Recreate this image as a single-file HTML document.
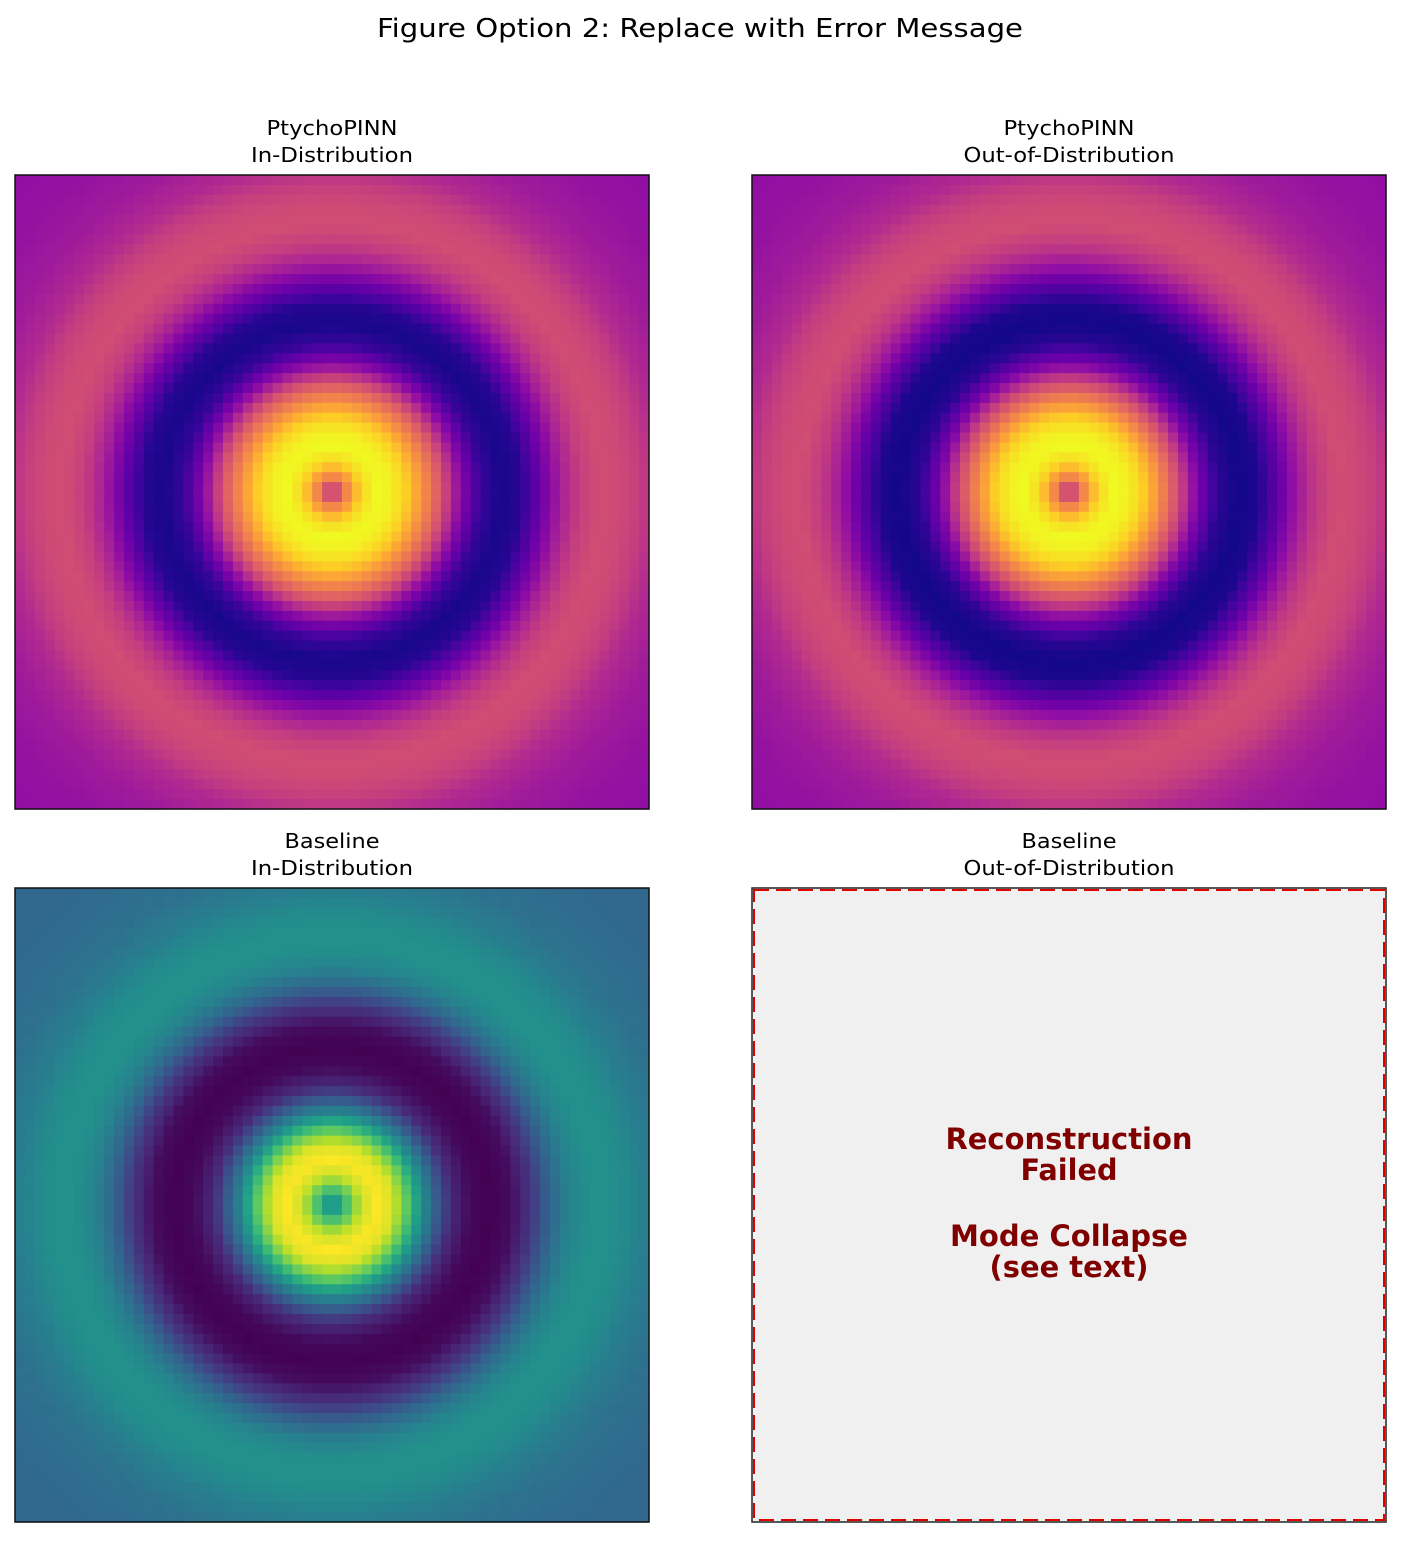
<!DOCTYPE html>
<html><head><meta charset="utf-8"><style>
body{margin:0;background:#fff;width:1401px;height:1537px;overflow:hidden}
</style></head><body>
<svg id="fig" width="1401" height="1537" xmlns="http://www.w3.org/2000/svg" style="font-family:'DejaVu Sans','Liberation Sans',sans-serif">
<text x="700" y="37" font-size="26" text-anchor="middle" textLength="646" lengthAdjust="spacingAndGlyphs">Figure Option 2: Replace with Error Message</text>
<text x="332" y="135" font-size="20" text-anchor="middle" textLength="131" lengthAdjust="spacingAndGlyphs">PtychoPINN</text>
<text x="332" y="162" font-size="20" text-anchor="middle" textLength="162" lengthAdjust="spacingAndGlyphs">In-Distribution</text>
<text x="1069" y="135" font-size="20" text-anchor="middle" textLength="131" lengthAdjust="spacingAndGlyphs">PtychoPINN</text>
<text x="1069" y="162" font-size="20" text-anchor="middle" textLength="211" lengthAdjust="spacingAndGlyphs">Out-of-Distribution</text>
<text x="332" y="848" font-size="20" text-anchor="middle" textLength="95" lengthAdjust="spacingAndGlyphs">Baseline</text>
<text x="332" y="875" font-size="20" text-anchor="middle" textLength="162" lengthAdjust="spacingAndGlyphs">In-Distribution</text>
<text x="1069" y="848" font-size="20" text-anchor="middle" textLength="95" lengthAdjust="spacingAndGlyphs">Baseline</text>
<text x="1069" y="875" font-size="20" text-anchor="middle" textLength="211" lengthAdjust="spacingAndGlyphs">Out-of-Distribution</text>
<g id="p1"></g>
<g id="p2"></g>
<g id="p3"></g>
<rect x="752" y="888" width="634" height="634" fill="#f0f0f0" stroke="#222" stroke-width="1.5"/>
<rect x="754" y="890" width="630" height="630" fill="none" stroke="#e00000" stroke-width="2" stroke-dasharray="15,7"/>
<g font-size="29" font-weight="bold" fill="#800000" text-anchor="middle">
<text x="1069" y="1149" textLength="247" lengthAdjust="spacingAndGlyphs">Reconstruction</text>
<text x="1069" y="1180" textLength="97" lengthAdjust="spacingAndGlyphs">Failed</text>
<text x="1069" y="1246" textLength="238" lengthAdjust="spacingAndGlyphs">Mode Collapse</text>
<text x="1069" y="1277" textLength="159" lengthAdjust="spacingAndGlyphs">(see text)</text>
</g>
</svg>
<script>
// Radial profile (radius in grid cells -> normalized value)
const profileR = [0, 1.5, 3, 4.5, 6, 7.5, 9, 11, 13, 15, 17, 19, 21, 23, 25, 27, 29, 31, 33, 36, 40, 46];
const plasmaProfile = [0.4, 0.7, 0.92, 1.0, 0.98, 0.9, 0.75, 0.55, 0.28, 0.08, 0.02, 0.05, 0.2, 0.36, 0.47, 0.52, 0.51, 0.47, 0.4, 0.35, 0.32, 0.3];
const plasmaProfileOOD = [0.4, 0.7, 0.92, 1.0, 0.98, 0.9, 0.74, 0.52, 0.25, 0.06, 0.01, 0.03, 0.17, 0.34, 0.46, 0.52, 0.51, 0.47, 0.4, 0.35, 0.32, 0.3];
const viridisR = [0, 1.5, 3, 4.5, 6, 7.5, 9, 10.5, 12, 14, 16, 18, 20, 22, 24, 26, 28, 30, 32, 35, 40, 46];
const viridisProfile = [0.43, 0.7, 0.92, 1.0, 0.95, 0.75, 0.5, 0.3, 0.12, 0.02, 0.0, 0.03, 0.15, 0.32, 0.45, 0.5, 0.5, 0.47, 0.42, 0.37, 0.34, 0.33];
const gridN = 64;

const plasmaStops = ["#0d0887","#41049d","#6a00a8","#8f0da4","#b12a90","#cc4778","#e16462","#f2844b","#fca636","#fcce25","#f0f921"];
const viridisStops = ["#440154","#482878","#3e4989","#31688e","#26828e","#1f9e89","#35b779","#6ece58","#b5de2b","#fde725"];

function hex(c){return [parseInt(c.slice(1,3),16),parseInt(c.slice(3,5),16),parseInt(c.slice(5,7),16)];}
function cmap(stops,v){v=Math.max(0,Math.min(1,v));const n=stops.length-1;const i=Math.min(n-1,Math.floor(v*n));const t=v*n-i;const a=hex(stops[i]),b=hex(stops[i+1]);
return 'rgb('+a.map((x,k)=>Math.round(x+(b[k]-x)*t)).join(',')+')';}
function prof(rs,vs,r){if(r>=rs[rs.length-1])return vs[vs.length-1];for(let i=0;i<rs.length-1;i++){if(r<=rs[i+1]){const t=(r-rs[i])/(rs[i+1]-rs[i]);return vs[i]+(vs[i+1]-vs[i])*t;}}}
function xScale(x0,i){return x0+i*634/gridN;}
function draw(id,x0,y0,rs,vs,stops){
  const g=document.getElementById(id);const ns="http://www.w3.org/2000/svg";const cs=634/gridN;
  for(let j=0;j<gridN;j++)for(let i=0;i<gridN;i++){
    const r=Math.hypot(i+0.5-gridN/2,j+0.5-gridN/2);
    const el=document.createElementNS(ns,'rect');
    
    
    el.setAttribute('x',xScale(x0,i));el.setAttribute('y',xScale(y0,j));
    el.setAttribute('width',cs+0.6);el.setAttribute('height',cs+0.6);
    el.setAttribute('fill',cmap(stops,prof(rs,vs,r)));
    g.appendChild(el);
  }
  const b=document.createElementNS(ns,'rect');
  
  
  b.setAttribute('x',x0);b.setAttribute('y',y0);b.setAttribute('width',634);b.setAttribute('height',634);
  b.setAttribute('fill','none');b.setAttribute('stroke','#111');b.setAttribute('stroke-width','1.5');
  g.appendChild(b);
}
draw('p1',15,175,profileR,plasmaProfile,plasmaStops);
draw('p2',752,175,profileR,plasmaProfileOOD,plasmaStops);
draw('p3',15,888,viridisR,viridisProfile,viridisStops);
</script>
</body></html>
